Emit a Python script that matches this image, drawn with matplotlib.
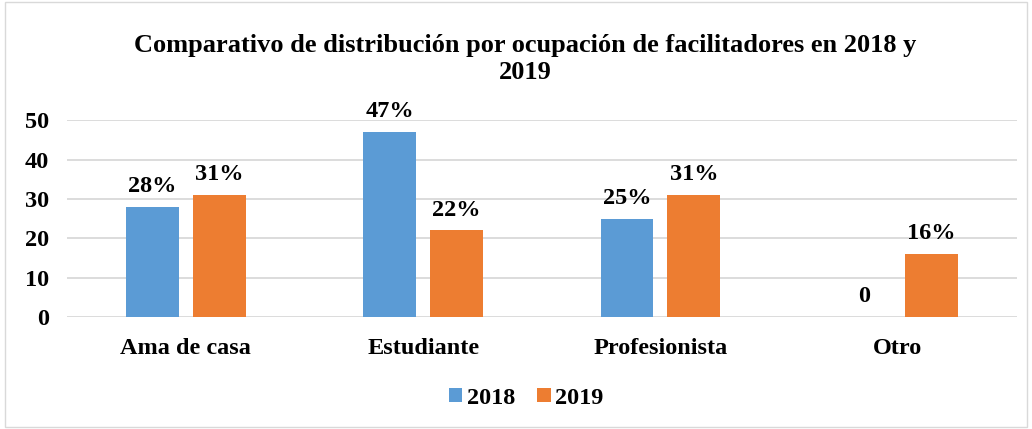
import matplotlib.pyplot as plt
import numpy as np
from matplotlib.patches import Rectangle

categories = ['Ama de casa', 'Estudiante', 'Profesionista', 'Otro']
values_2018 = [28, 47, 25, 0]
values_2019 = [31, 22, 31, 16]
labels_2018 = ['28%', '47%', '25%', '0']
labels_2019 = ['31%', '22%', '31%', '16%']

plt.rcParams['font.family'] = ['Liberation Serif', 'DejaVu Serif']
plt.rcParams['font.weight'] = 'bold'

fig = plt.figure(figsize=(10.32, 4.29), dpi=100)
ax = fig.add_axes([0.065, 0.261, 0.92, 0.459])

x = np.arange(len(categories))
w = 0.223
gap = 0.059
b1 = ax.bar(x - (w + gap) / 2, values_2018, w, color='#5b9bd5', label='2018')
b2 = ax.bar(x + (w + gap) / 2, values_2019, w, color='#ed7d31', label='2019')

for bars, labs in ((b1, labels_2018), (b2, labels_2019)):
    for bar, lab in zip(bars, labs):
        ax.annotate(lab, (bar.get_x() + bar.get_width() / 2, bar.get_height()),
                    xytext=(0, 7), textcoords='offset points', ha='center', va='bottom',
                    fontsize=17.5, fontweight='bold')

ax.set_ylim(0, 50)
ax.set_xlim(-0.5, 3.5)
ax.set_yticks(range(0, 51, 10))
ax.set_xticks(x)
ax.set_xticklabels(categories)
ax.tick_params(length=0, labelsize=17.5)
ax.tick_params(axis='x', pad=15)
ax.tick_params(axis='y', pad=13)
ax.grid(axis='y', color='#d9d9d9', linewidth=1.3)
ax.set_axisbelow(True)
for s in ax.spines.values():
    s.set_visible(False)

fig.text(0.509, 0.862, 'Comparativo de distribución por ocupación de facilitadores en 2018 y\n2019',
         ha='center', va='center', fontsize=19, fontweight='bold', linespacing=1.25)

fig.legend(handles=[b1, b2], loc='center', bbox_to_anchor=(0.51, 0.072), ncol=2, frameon=False,
           prop={'size': 17.5, 'weight': 'bold'}, handlelength=0.55, handleheight=0.55,
           handletextpad=0.2, columnspacing=0.9)

fig.patches.append(Rectangle((0.005, 0.005), 0.99, 0.99, transform=fig.transFigure,
                             fill=False, edgecolor='#d9d9d9', linewidth=1))

fig.savefig('out.png', dpi=100)
